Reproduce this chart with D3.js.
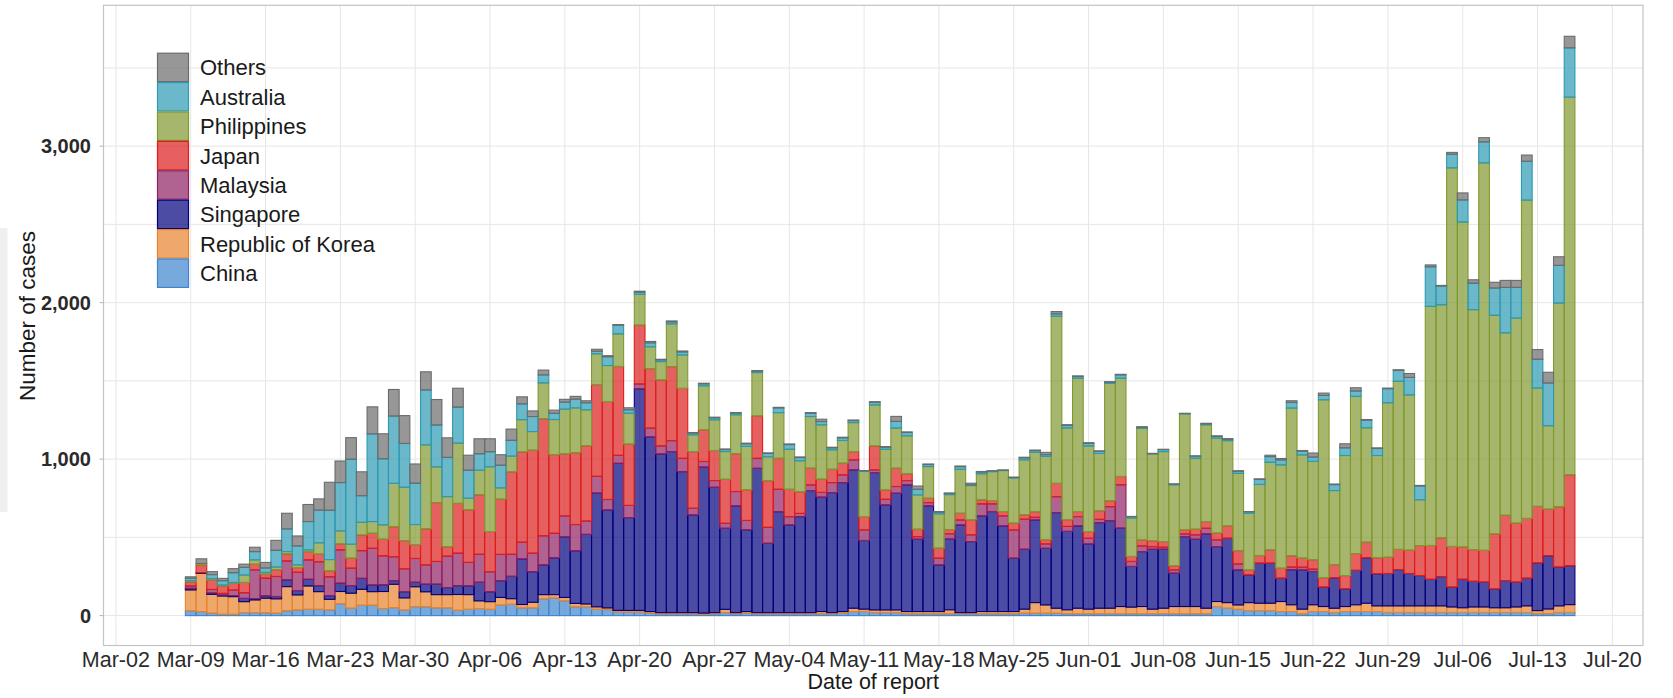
<!DOCTYPE html>
<html>
<head>
<meta charset="utf-8">
<script src="https://cdn.jsdelivr.net/npm/d3@7"></script>
<style>
  html, body { margin: 0; padding: 0; background: #fff; }
  svg { display: block; }
</style>
</head>
<body>
<div id="chart"></div>
<script>
(function () {
  // Daily report dates, Mar-09 .. Jul-16 (2020)
  const FIRST_REPORT = Date.UTC(2020, 2, 9);
  const N_DAYS = 130;

  // Stack order bottom -> top
  const china = [
    30, 25, 15, 8, 8, 19, 19,
    17, 15, 30, 36, 40, 40, 36,
    75, 47, 66, 66, 45, 51, 35,
    56, 56, 49, 49, 34, 40, 45,
    40, 67, 72, 49, 49, 107, 112,
    94, 56, 56, 40, 38, 22, 22,
    22, 15, 11, 11, 11, 11, 8,
    11, 19, 11, 15, 11, 11, 11,
    11, 11, 11, 11, 11, 15, 26,
    26, 19, 19, 19, 11, 11, 11,
    11, 11, 11, 11, 11, 11, 11,
    11, 15, 15, 15, 15, 11, 11,
    11, 11, 11, 11, 11, 11, 11,
    11, 11, 11, 11, 11, 58, 47,
    40, 32, 32, 32, 26, 26, 11,
    26, 26, 19, 26, 26, 26, 26,
    20, 20, 20, 20, 20, 20, 20,
    20, 20, 20, 20, 20, 20, 20,
    12, 12, 20, 20
  ];
  const korea = [
    134, 245, 121, 117, 113, 70, 81,
    94, 92, 155, 96, 149, 113, 68,
    79, 96, 102, 87, 109, 149, 78,
    128, 96, 85, 85, 101, 94, 49,
    49, 49, 36, 22, 36, 27, 22,
    22, 22, 18, 16, 11, 11, 11,
    11, 11, 8, 8, 8, 8, 8,
    8, 21, 8, 11, 8, 8, 8,
    8, 8, 8, 15, 8, 11, 21,
    15, 17, 17, 17, 15, 15, 15,
    15, 26, 8, 8, 15, 15, 15,
    15, 26, 68, 53, 32, 26, 36,
    30, 36, 36, 47, 43, 47, 30,
    36, 47, 47, 47, 36, 32, 36,
    28, 51, 47, 47, 64, 43, 30,
    43, 32, 28, 32, 43, 53, 36,
    42, 42, 42, 42, 42, 42, 35,
    30, 35, 35, 30, 30, 35, 42,
    20, 30, 42, 50
  ];
  const singapore = [
    10, 4, 8, 6, 6, 21, 9,
    15, 15, 43, 28, 43, 38, 23,
    53, 49, 70, 43, 43, 23, 39,
    29, 49, 67, 45, 56, 56, 119,
    63, 107, 143, 291, 195, 190, 235,
    387, 336, 445, 727, 626, 940, 593,
    1416, 1116, 1014, 1029, 901, 624, 933,
    801, 518, 682, 522, 922, 443, 645,
    560, 613, 780, 731, 767, 824, 884,
    439, 878, 671, 746, 809, 462, 675,
    298, 452, 560, 454, 611, 639, 547,
    341, 383, 528, 362, 611, 501, 526,
    417, 547, 560, 501, 260, 351, 383,
    377, 213, 447, 430, 475, 351, 411,
    224, 177, 256, 256, 149, 224, 251,
    213, 124, 194, 113, 220, 290, 205,
    207, 232, 207, 194, 170, 187, 127,
    182, 164, 159, 120, 174, 159, 177,
    304, 340, 248, 248
  ];
  const malaysia = [
    15, 0, 23, 11, 36, 36, 183,
    113, 128, 121, 117, 124, 153, 121,
    213, 111, 177, 234, 185, 153, 147,
    152, 123, 145, 201, 208, 150, 179,
    128, 168, 141, 107, 119, 186, 157,
    134, 168, 85, 107, 67, 51, 78,
    31, 56, 51, 70, 85, 43, 36,
    43, 32, 92, 60, 64, 102, 143,
    53, 21, 36, 30, 64, 49, 64,
    68, 17, 36, 43, 28, 17, 21,
    43, 34, 32, 43, 77, 49, 64,
    181, 192, 17, 28, 102, 32, 60,
    36, 21, 89, 277, 32, 36, 17,
    13, 21, 17, 28, 36, 43, 0,
    38, 0, 0, 0, 0, 17, 17,
    15, 0, 0, 0, 0, 0, 0,
    0, 0, 0, 0, 0, 0, 0,
    0, 0, 0, 0, 0, 0, 0,
    0, 0, 0, 0
  ];
  const japan = [
    26, 49, 60, 47, 43, 66, 36,
    26, 43, 45, 30, 53, 49, 38,
    38, 64, 100, 96, 106, 192, 180,
    89, 230, 376, 60, 318, 336, 380,
    257, 353, 526, 577, 658, 747, 503,
    396, 459, 481, 586, 626, 568, 392,
    376, 380, 422, 473, 447, 362, 202,
    192, 281, 241, 196, 271, 298, 198,
    175, 138, 107, 85, 85, 75, 53,
    85, 153, 60, 117, 43, 47, 28,
    64, 26, 43, 96, 26, 21, 28,
    43, 28, 36, 26, 85, 43, 32,
    43, 55, 38, 53, 32, 38, 38,
    36, 26, 26, 36, 43, 43, 79,
    85, 32, 49, 85, 64, 72, 58,
    60, 60, 85, 85, 107, 100, 102,
    104, 129, 149, 191, 216, 248, 260,
    206, 203, 203, 352, 417, 377, 382,
    362, 298, 385, 581
  ];
  const philippines = [
    8, 10, 10, 6, 6, 47, 28,
    11, 17, 15, 17, 11, 72, 72,
    83, 89, 81, 75, 92, 277, 341,
    128, 537, 228, 320, 385, 74, 157,
    414, 72, 101, 206, 119, 230, 224,
    286, 286, 230, 197, 230, 208, 197,
    197, 140, 117, 273, 213, 107, 281,
    196, 177, 249, 277, 277, 153, 292,
    256, 198, 330, 347, 124, 145, 185,
    288, 262, 260, 256, 243, 219, 202,
    219, 224, 281, 219, 166, 185, 262,
    288, 351, 379, 533, 1068, 586, 852,
    547, 366, 750, 628, 245, 714, 554,
    575, 518, 741, 454, 618, 607, 545,
    494, 362, 454, 560, 660, 944, 660,
    628, 1137, 473, 767, 1005, 731, 654,
    987, 1074, 992, 293, 1528, 1489, 2419,
    2077, 1533, 2476, 1397, 1166, 1310, 2034,
    756, 533, 1302, 2414
  ];
  const australia = [
    15, 0, 25, 28, 62, 49, 53,
    28, 107, 145, 121, 181, 209, 315,
    309, 543, 170, 560, 422, 430, 280,
    264, 351, 268, 251, 230, 179, 105,
    96, 145, 101, 101, 96, 51, 40,
    45, 56, 45, 16, 56, 56, 22,
    13, 25, 11, 13, 20, 11, 13,
    13, 13, 11, 17, 9, 21, 30,
    30, 21, 21, 21, 13, 17, 13,
    4, 17, 13, 43, 21, 36, 13,
    11, 7, 17, 4, 11, 4, 2,
    4, 13, 11, 11, 15, 17, 11,
    17, 13, 7, 21, 9, 6, 2,
    13, 4, 2, 13, 6, 11, 9,
    13, 9, 32, 36, 32, 36, 24,
    28, 28, 38, 49, 34, 49, 45,
    90, 70, 112, 88, 253, 120, 87,
    141, 169, 134, 174, 290, 196, 248,
    184, 273, 241, 315
  ];
  const others = [
    10, 30, 19, 15, 26, 21, 28,
    36, 64, 100, 64, 109, 72, 179,
    138, 138, 153, 173, 160, 170, 178,
    123, 116, 163, 125, 121, 96, 96,
    83, 67, 72, 45, 36, 31, 20,
    18, 18, 13, 13, 7, 4, 13,
    7, 9, 4, 6, 6, 4, 4,
    4, 4, 4, 4, 4, 4, 4,
    4, 4, 4, 15, 4, 4, 4,
    2, 4, 4, 32, 4, 21, 4,
    4, 4, 4, 11, 4, 2, 2,
    2, 4, 4, 15, 15, 4, 4,
    4, 4, 4, 4, 2, 4, 2,
    2, 2, 2, 2, 4, 4, 4,
    4, 2, 4, 9, 9, 11, 4,
    26, 15, 4, 26, 21, 4, 4,
    4, 4, 25, 4, 12, 4, 12,
    45, 22, 27, 37, 45, 45, 40,
    62, 69, 55, 74
  ];

  const seriesNames = ['China', 'Republic of Korea', 'Singapore', 'Malaysia',
    'Japan', 'Philippines', 'Australia', 'Others'];
  const seriesValues = [china, korea, singapore, malaysia, japan, philippines, australia, others];
  const seriesStroke = ['#3d85cf', '#e8832c', '#00007f', '#8f1f62',
    '#dd1d1d', '#80992f', '#2b9ab2', '#6b6b6b'];

  const yTicks = [0, 1000, 2000, 3000];
  const yGrid = [0, 500, 1000, 1500, 2000, 2500, 3000, 3500];

  const W = 1673, H = 698;
  const PANEL = { left: 103.5, right: 1643, top: 5.3, bottom: 645.5 };
  const DAY = 864e5;
  const MAR02 = Date.UTC(2020, 2, 2);
  const SANS = '"Liberation Sans", Arial, Helvetica, sans-serif';

  const rows = d3.range(N_DAYS).map(i => {
    const r = { date: new Date(FIRST_REPORT + i * DAY) };
    seriesNames.forEach((s, k) => { r[s] = seriesValues[k][i]; });
    return r;
  });

  const svg = d3.select('#chart').append('svg')
    .attr('width', W).attr('height', H)
    .style('font-family', SANS);

  const x = d3.scaleUtc()
    .domain([new Date(MAR02 - 1.16 * DAY), new Date(MAR02 + 142.87 * DAY)])
    .range([PANEL.left, PANEL.right]);
  const y = d3.scaleLinear().domain([-191, 3900]).range([PANEL.bottom, PANEL.top]);
  const bw = x(new Date(MAR02 + DAY)) - x(new Date(MAR02));

  // light strip at far left
  svg.append('rect')
    .attr('x', 0).attr('y', 228).attr('width', 7.5).attr('height', 284)
    .attr('fill', '#efefef');

  // grid
  const xTicks = d3.utcDay.range(new Date(MAR02), new Date(Date.UTC(2020, 6, 21)), 7);
  svg.append('g').selectAll('line')
    .data(yGrid).join('line')
    .attr('x1', PANEL.left).attr('x2', PANEL.right)
    .attr('y1', d => y(d)).attr('y2', d => y(d))
    .attr('stroke', '#e6e6e6').attr('stroke-width', 1);
  svg.append('g').selectAll('line')
    .data(xTicks).join('line')
    .attr('x1', d => x(d)).attr('x2', d => x(d))
    .attr('y1', PANEL.top).attr('y2', PANEL.bottom)
    .attr('stroke', '#e6e6e6').attr('stroke-width', 1);

  // stacked bars
  const stacked = d3.stack().keys(seriesNames)(rows);
  stacked.forEach((layer, k) => {
    svg.append('g')
      .selectAll('rect')
      .data(layer.filter(d => d[1] - d[0] > 0))
      .join('rect')
      .attr('x', d => x(d.data.date) - bw / 2)
      .attr('width', bw)
      .attr('y', d => y(d[1]))
      .attr('height', d => y(d[0]) - y(d[1]))
      .attr('fill', seriesStroke[k])
      .attr('fill-opacity', 0.7)
      .attr('stroke', seriesStroke[k])
      .attr('stroke-width', 1.1);
  });

  // panel border
  svg.append('rect')
    .attr('x', PANEL.left).attr('y', PANEL.top)
    .attr('width', PANEL.right - PANEL.left).attr('height', PANEL.bottom - PANEL.top)
    .attr('fill', 'none').attr('stroke', '#c4c4c4').attr('stroke-width', 1.2);

  // y axis
  const fmt = d3.format(',');
  svg.append('g').selectAll('line')
    .data(yTicks).join('line')
    .attr('x1', PANEL.left - 4).attr('x2', PANEL.left)
    .attr('y1', d => y(d)).attr('y2', d => y(d))
    .attr('stroke', '#b3b3b3');
  svg.append('g').selectAll('text')
    .data(yTicks).join('text')
    .attr('x', 91).attr('y', d => y(d))
    .attr('dy', '0.36em')
    .attr('text-anchor', 'end')
    .style('font-weight', 'bold')
    .style('font-size', '20px')
    .attr('fill', '#2a2a2a')
    .text(d => fmt(d));

  svg.append('text')
    .attr('transform', 'translate(35,316) rotate(-90)')
    .attr('text-anchor', 'middle')
    .style('font-size', '22.5px')
    .attr('fill', '#1a1a1a')
    .text('Number of cases');

  // x axis
  const xFmt = d3.utcFormat('%b-%d');
  svg.append('g').selectAll('text')
    .data(xTicks).join('text')
    .attr('x', d => x(d)).attr('y', 667)
    .attr('text-anchor', 'middle')
    .style('font-size', '21.5px')
    .attr('fill', '#2b2b2b')
    .text(d => xFmt(d));

  svg.append('text')
    .attr('x', (PANEL.left + PANEL.right) / 2).attr('y', 689)
    .attr('text-anchor', 'middle')
    .style('font-size', '21.5px')
    .attr('fill', '#1a1a1a')
    .text('Date of report');

  // legend, top entry = last stacked series
  const legend = svg.append('g').attr('transform', 'translate(157,52.7)');
  const order = d3.range(seriesNames.length).reverse();
  order.forEach((k, i) => {
    const row = legend.append('g').attr('transform', `translate(0,${i * 29.4})`);
    row.append('rect')
      .attr('x', 0.5).attr('y', 0.5)
      .attr('width', 31).attr('height', 28.4)
      .attr('fill', seriesStroke[k]).attr('fill-opacity', 0.7)
      .attr('stroke', seriesStroke[k]).attr('stroke-width', 1.2);
    row.append('text')
      .attr('x', 43).attr('y', 14.7)
      .attr('dy', '0.36em')
      .style('font-size', '22px')
      .attr('fill', '#1a1a1a')
      .text(seriesNames[k]);
  });
})();
</script>
</body>
</html>
